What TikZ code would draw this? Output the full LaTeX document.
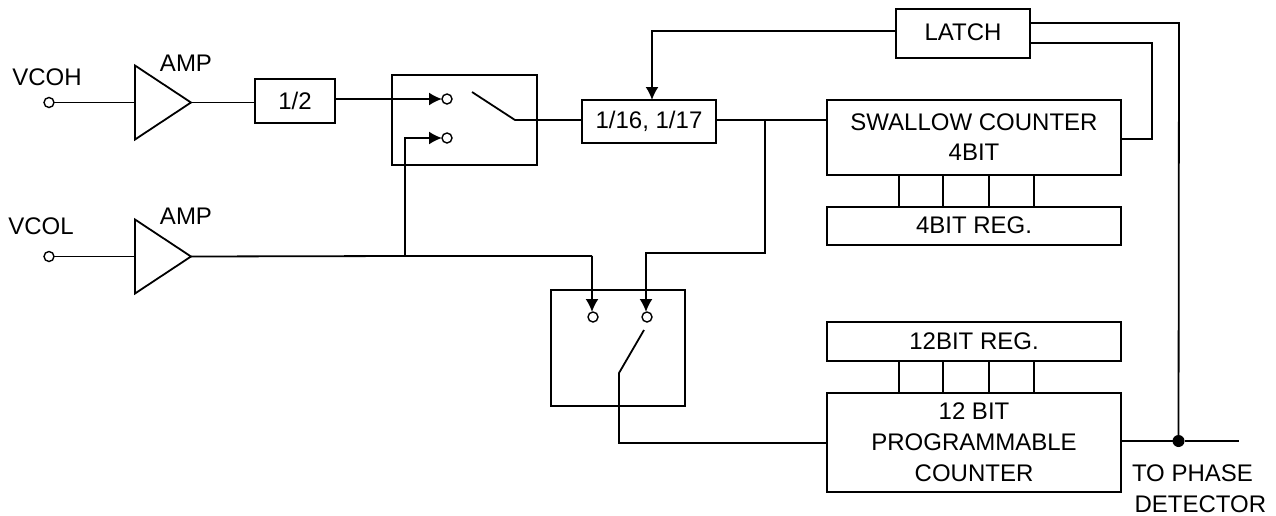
\documentclass[tikz,border=0pt]{standalone}
\usepackage{fontspec}
\setmainfont{Liberation Sans}
\usepackage{tikz}
\usetikzlibrary{shapes.geometric, arrows.meta}

\begin{document}
\begin{tikzpicture}[x=1pt, y=-1pt, line width=1.8pt, >={Latex[length=13pt,width=13pt]}]
\tikzstyle{every node} = [font=\fontsize{24}{31}\selectfont, inner sep=0pt, outer sep=0pt, align=center]
\tikzstyle{block} = [draw, rectangle]
\tikzstyle{amp} = [draw, isosceles triangle, isosceles triangle stretches, minimum height=56pt, minimum width=74pt, anchor=west]
\tikzstyle{pin} = [draw, circle, minimum size=10pt, line width=1.4pt]
\useasboundingbox (0, 0) rectangle (1276, 515);

\node (vcohpin) [pin] at (49, 102.5) {};
\node (vcolpin) [pin] at (49, 256.5) {};
\node (amph) [amp] at (135, 102.5) {};
\node (ampl) [amp] at (135, 256.5) {};
\node at (186, 63) {AMP};
\node at (186, 216) {AMP};
\node at (47, 77) {VCOH};
\node at (41, 226) {VCOL};

\node (half) [block, minimum width=80pt, minimum height=44pt] at (295, 101) {1/2};
\node (swh) [block, minimum width=145pt, minimum height=90pt] at (464.5, 120) {};
\node (divider) [block, minimum width=134pt, minimum height=43pt] at (649, 121.5) {\raisebox{1.5pt}{1/16, 1/17}};
\node (latch) [block, minimum width=134pt, minimum height=49pt] at (963, 33.5) {\raisebox{2pt}{LATCH}};
\node (swallow) [block, minimum width=294pt, minimum height=75pt] at (974, 137.5) {SWALLOW COUNTER\\[-1pt]4BIT};
\node (regfour) [block, minimum width=294pt, minimum height=38pt] at (974, 226) {\raisebox{1pt}{4BIT REG.}};
\node (swl) [block, minimum width=134pt, minimum height=116pt] at (618, 348) {};
\node (regtwelve) [block, minimum width=294pt, minimum height=39pt] at (974, 341.5) {\raisebox{1pt}{12BIT REG.}};
\node (program) [block, minimum width=294pt, minimum height=99pt] at (974, 442.5) {12 BIT\\PROGRAMMABLE\\COUNTER};

\node (pinh) [pin] at (447, 99) {};
\node (pinm) [pin] at (447, 138) {};
\node (pina) [pin] at (593, 317) {};
\node (pinb) [pin] at (647, 317) {};
\node (dot) [circle, fill=black, minimum size=12pt] at (1178.5, 441) {};
\node (output) at (1239, 441) {};
\node [anchor=west] at (1132, 473) {TO PHASE};
\node [anchor=west] at (1134.5, 504) {DETECTOR};

\coordinate (blades) at (472, 92);
\coordinate (bladee) at (515, 120);
\coordinate (bladel) at (644, 330);
\coordinate (bladem) at (619, 373);
\coordinate (tapl) at (405, 256);
\coordinate (tapd) at (765, 120);

\draw (vcohpin) -- (vcohpin -| amph.lower side);
\draw (vcolpin) -- (vcolpin -| ampl.lower side);
\draw (amph.apex) -- (half.west |- amph.apex);
\draw [->] (half.east |- pinh) -- (pinh);
\draw (blades) -- (bladee) -- (divider.west |- bladee);
\draw (ampl.apex) -- (tapl) -- (592, 256);
\draw [->] (592, 256) -- (pina.north -| 592, 0);
\draw [->] (tapl) -- (405, 138) -- (pinm);
\draw (divider.east |- tapd) -- (swallow.west |- tapd);
\draw [->] (tapd) -- (765, 253) -- (646, 253) -- (pinb.north -| 646, 0);
\draw [->] (latch.west |- 0, 31) -- (652, 31) -- (divider.north -| 652, 0);
\draw (latch.east |- 0, 23) -- (1179, 23) -- (dot);
\draw (latch.east |- 0, 43) -- (1152, 43) -- (1152, 139) -- (swallow.east |- 0, 139);
\draw (bladel) -- (bladem) -- (619, 443) -- (program.west |- 0, 443);
\draw (program.east |- output) -- (dot) -- (output);

\foreach \busx in {899, 943, 989, 1034} {
  \draw (swallow.south -| \busx, 0) -- (regfour.north -| \busx, 0);
  \draw (regtwelve.south -| \busx, 0) -- (program.north -| \busx, 0);
}
\end{tikzpicture}
\end{document}
